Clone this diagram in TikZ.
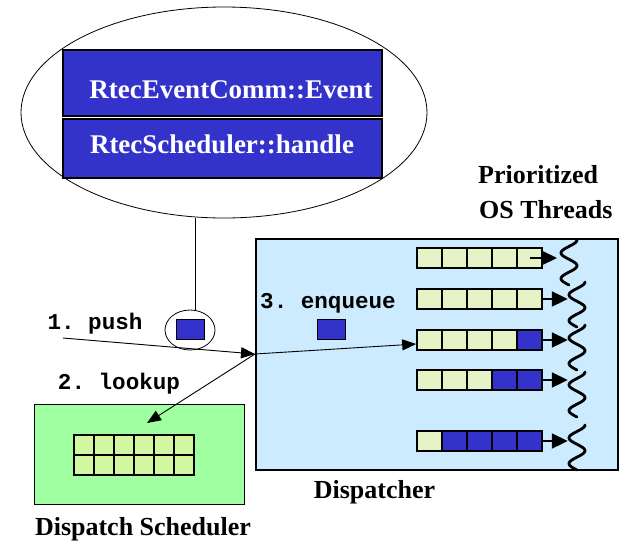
\documentclass[tikz,border=0pt]{standalone}
\usepackage{fontspec}
\setmainfont{Liberation Serif}
\setmonofont{Liberation Mono}
\usetikzlibrary{shapes.geometric,arrows.meta}
\definecolor{evblue}{HTML}{3333CC}
\definecolor{dispbg}{HTML}{CCEBFF}
\definecolor{schedbg}{HTML}{A0FFA0}
\definecolor{qcell}{HTML}{E6F3C6}
\definecolor{gcell}{HTML}{D2F7A2}
\newcommand{\thread}[2]{\draw[threadline] plot[domain=0:1,samples=41,smooth] ({#1+8*cos(630*\x)},{#2+45*\x});}
\begin{document}
\begin{tikzpicture}[x=1pt,y=-1pt,
    evbox/.style={draw=black,line width=1.2pt,fill=evblue,minimum width=319pt,inner sep=0pt},
    evtext/.style={text=white,font=\fontsize{27}{30}\selectfont\bfseries},
    title/.style={font=\fontsize{26}{30}\selectfont\bfseries,inner sep=0pt},
    monolabel/.style={font=\fontsize{22.6}{26}\selectfont\ttfamily\bfseries,inner sep=0pt},
    msgbox/.style={draw,line width=1pt,fill=evblue,minimum width=28pt,minimum height=20pt,inner sep=0pt},
    qbox/.style={draw,line width=1.6pt,minimum width=25pt,minimum height=20pt,inner sep=0pt},
    gbox/.style={draw,line width=1.6pt,fill=gcell,minimum width=20pt,minimum height=20pt,inner sep=0pt},
    flow/.style={line width=0.9pt,-{Triangle[length=14pt,width=11pt]}},
    qarrow/.style={line width=2pt,-{Triangle[length=16pt,width=15pt]}},
    threadline/.style={line width=2.8pt,line cap=round}]
    \useasboundingbox (0,0) rectangle (631,544);
    % event with its header
    \node[draw,ellipse,line width=0.8pt,minimum width=406pt,minimum height=211pt,inner sep=0pt] (evt) at (224,112.5) {};
    \node[evbox,minimum height=66pt] (evname) at (222.5,83) {};
    \node[evtext] (evnamelbl) at (231,90) {RtecEventComm::Event};
    \node[evbox,minimum height=59pt] (hdl) at (222.5,148.5) {};
    \node[evtext] (hdllbl) at (222,144) {RtecScheduler::handle};
    % token being pushed
    \node[draw,ellipse,line width=0.8pt,minimum width=50pt,minimum height=40pt,inner sep=0pt] (tok) at (190,330) {};
    \node[msgbox] (tokmsg) at (190,329) {};
    \draw[line width=0.8pt] ([xshift=5pt]tok.north) -- ([xshift=5pt]tok.north |- evt.south);
    % dispatcher
    \node[draw,line width=1.2pt,fill=dispbg,minimum width=362pt,minimum height=231pt,inner sep=0pt] (disp) at (437,354.5) {};
    \node[msgbox] (enqmsg) at (331.5,329) {};
    \foreach \r/\y/\n in {1/258/0,2/299/0,3/340/1,4/380/2,5/441/4}
      \foreach \c in {1,...,5}{
        \ifnum\c>\numexpr5-\n\relax \def\fc{evblue}\else\def\fc{qcell}\fi
        \node[qbox,fill=\fc] (q\r-\c) at ({404.5+25*\c},\y) {};
      }
    \coordinate (th1) at (557,258);
    \draw[qarrow] (q1-5.center) -- (th1);
    \foreach \r in {2,...,5}{
      \coordinate (th\r) at ([xshift=25pt]q\r-5.east);
      \draw[qarrow] (q\r-5.east) -- (th\r);
    }
    \thread{569}{240}
    \thread{577}{282}
    \thread{577}{325}
    \thread{577}{372}
    \thread{577}{425}
    % dispatch scheduler
    \node[draw,line width=1pt,fill=schedbg,minimum width=210pt,minimum height=100pt,inner sep=0pt] (sched) at (139,454) {};
    \foreach \r in {1,2}
      \foreach \c in {1,...,6}
        \node[gbox] (g\r-\c) at ({64+20*\c},{425+20*\r}) {};
    % push, lookup, enqueue
    \coordinate (pushin) at (63,338);
    \coordinate (jn) at (255,354);
    \coordinate (lkup) at (147,423);
    \draw[flow] (pushin) -- (jn);
    \draw[flow] (jn) -- ([yshift=-4pt]q3-1.west);
    \draw[flow] (jn) -- (lkup);
    \node[monolabel] (pushlbl) at (95,323.5) {1. push};
    \node[monolabel] (lkuplbl) at (119,383.5) {2. lookup};
    \node[monolabel] (enqlbl) at (328,303.5) {3. enqueue};
    % titles
    \node[title,anchor=west] (prio) at (478,175) {Prioritized};
    \node[title,anchor=west] (osthr) at (479,210) {OS Threads};
    \node[title] (displbl) at (374.5,492) {Dispatcher};
    \node[title] (schedlbl) at (143,529) {Dispatch Scheduler};
\end{tikzpicture}
\end{document}
